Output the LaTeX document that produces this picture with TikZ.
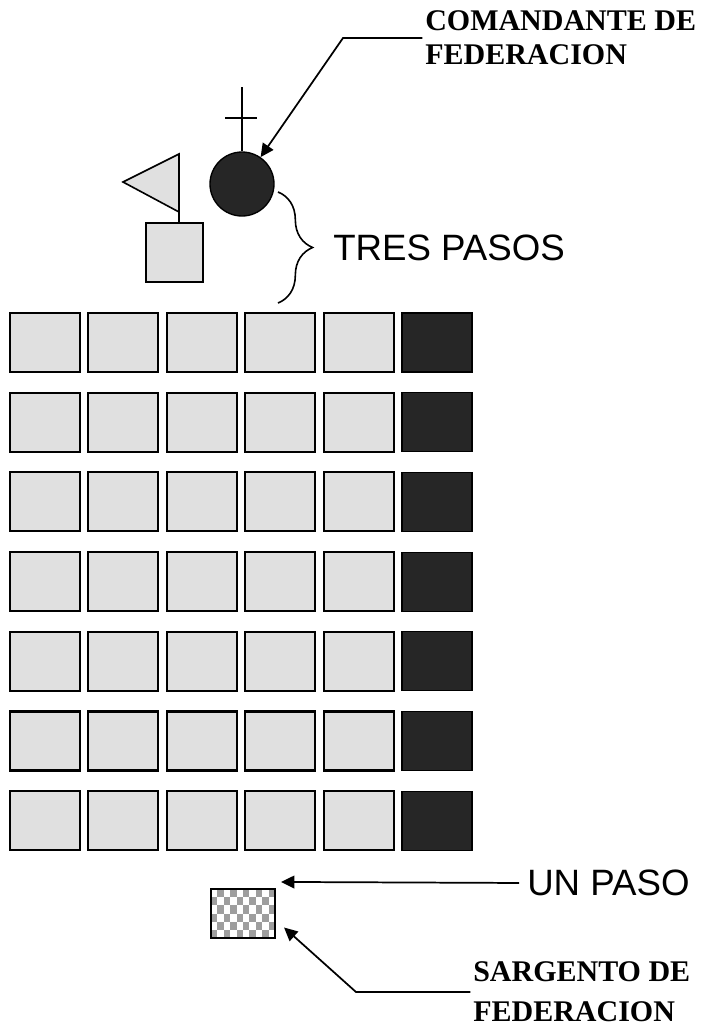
\documentclass[tikz,border=0pt]{standalone}
\usepackage{fontspec}
\setmainfont{Liberation Serif}
\setsansfont{Liberation Sans}
\usepackage{xcolor}
\definecolor{rankgray}{gray}{0.88}
\definecolor{rankdark}{gray}{0.15}
\definecolor{checkgray}{gray}{0.62}
\usepackage{tikz}
\usetikzlibrary{arrows.meta,positioning,decorations.pathreplacing}
\tikzset{
  rank box/.style={draw, line width=1.6pt, fill=rankgray, minimum width=52.5pt, minimum height=44.25pt, inner sep=0pt},
  rank dark/.style={draw, line width=0.8pt, fill=rankdark, minimum width=52.5pt, minimum height=44.25pt, inner sep=0pt},
  guide box/.style={draw, line width=1.4pt, fill=rankgray, minimum width=42.75pt, minimum height=44.25pt, inner sep=0pt},
  chief dot/.style={draw, circle, line width=1pt, fill=rankdark, minimum size=48pt, inner sep=0pt},
  sgt box/.style={draw, line width=1.6pt, fill=white, minimum width=48pt, minimum height=36.75pt, inner sep=0pt,
    path picture={\foreach \i in {0,...,9} \foreach \j in {0,...,5} {\pgfmathtruncatemacro\chk{mod(\i+\j,2)}
      \ifnum\chk=1 \fill[checkgray] ([shift={(\i*6.4,\j*8.17)}]path picture bounding box.north west) rectangle ++(6.4,8.17);\fi}}},
  flag shape/.style={draw, line width=1.2pt, fill=rankgray, line join=miter},
  cross line/.style={line width=2.2pt},
  call edge/.style={-{Triangle[length=10pt,width=9.5pt]}, line width=1.3pt, shorten <=2pt},
  call label/.style={font=\fontsize{22.5}{25.5}\selectfont\bfseries, align=left, inner sep=0pt},
  call label wide/.style={font=\fontsize{22.5}{30}\selectfont\bfseries, align=left, inner sep=0pt},
  step label/.style={font=\sffamily\fontsize{27.5}{30}\selectfont, inner sep=0pt},
  step brace/.style={decorate, decoration={brace, amplitude=26pt}, line width=1.2pt},
}

\begin{document}
\begin{tikzpicture}[x=0.75pt, y=-0.75pt]
  \useasboundingbox (0,0) rectangle (718,1036);
  \node[chief dot] (jefe) at (242,184) {};
  \coordinate (crosstop) at (242,87); \coordinate (barL) at (225,118); \coordinate (barR) at (257,118);
  \draw[cross line] (jefe.north) -- (crosstop); \draw[cross line] (barL) -- (barR);
  \node[guide box] (guia) at (174.5,252.5) {};
  \coordinate (asta) at (179,212);
  \draw[flag shape] (123,182) -- (179,154) -- (asta) -- cycle;
  \draw[line width=1pt] (asta) -- (asta |- guia.north);
  \foreach \r in {0,...,6} {
    \foreach \c in {0,...,4} \node[rank box] (f\r c\c) at (45+78.4*\c, 342.5+79.7*\r) {};
    \node[rank dark] (f\r c5) at (45+78.4*5, 342.5+79.7*\r) {};
  }
  \node[sgt box] (sarg) at (243,913.5) {};
  \node[call label, anchor=west] (cmd) at (425,38) {COMANDANTE DE\\FEDERACION};
  \coordinate (cmdknee) at (343,38);
  \draw[call edge] (cmd.west) -- (cmdknee) -- (jefe);
  \draw[step brace] (278,192) -- (278,303);
  \node[step label, anchor=west] (tres) at (333,248) {TRES PASOS};
  \node[step label, anchor=west] (paso) at (527,883) {UN PASO};
  \coordinate (pasotip) at ([shift={(5,-6)}]sarg.north east);
  \draw[call edge, shorten <=6pt] (paso.west) -- (pasotip);
  \node[call label wide, anchor=west] (sgt) at (473,992) {SARGENTO DE\\FEDERACION};
  \coordinate (sgtknee) at (356,992);
  \coordinate (sargtip) at ([shift={(8,14)}]sarg.east);
  \draw[call edge] (sgt.west) -- (sgtknee) -- (sargtip);
\end{tikzpicture}
\end{document}
